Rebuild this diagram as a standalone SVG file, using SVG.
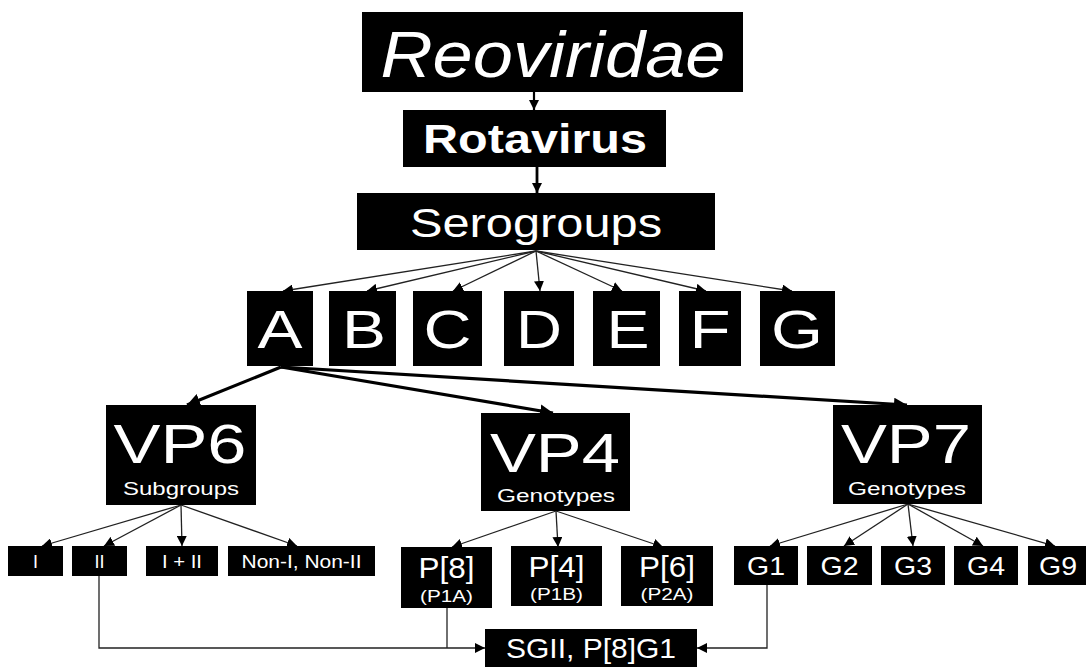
<svg xmlns="http://www.w3.org/2000/svg" width="1086" height="667" viewBox="0 0 1086 667">
<style>
  .box { fill: #000; }
  .t { fill: #fff; font-family: "Liberation Sans", Arial, sans-serif; text-anchor: middle; }
  .thin { stroke: #222; stroke-width: 1.3; fill: none; marker-end: url(#ah); }
  .thick { stroke: #000; stroke-width: 3.2; fill: none; marker-end: url(#ahb); }
  .plain { stroke: #222; stroke-width: 1.3; fill: none; }
</style>
<defs>
  <marker id="ah" markerUnits="userSpaceOnUse" markerWidth="10" markerHeight="10" refX="10" refY="5" orient="auto">
    <path d="M0,0 L10,5 L0,10 z" fill="#000"/>
  </marker>
  <marker id="ahb" markerUnits="userSpaceOnUse" markerWidth="13" markerHeight="13" refX="13" refY="6.5" orient="auto">
    <path d="M0,0 L13,6.5 L0,13 z" fill="#000"/>
  </marker>
</defs>
<rect width="1086" height="667" fill="#fff"/>

<g id="connectors">
  <line x1="534" y1="92" x2="534" y2="110" stroke="#000" stroke-width="2.2" marker-end="url(#ah)"/>
  <line x1="537" y1="167" x2="537" y2="193" stroke="#000" stroke-width="2.8" marker-end="url(#ah)"/>
  <line class="thin" x1="536" y1="251" x2="283" y2="291"/>
  <line class="thin" x1="536" y1="251" x2="367" y2="291"/>
  <line class="thin" x1="536" y1="251" x2="453" y2="291"/>
  <line class="thin" x1="536" y1="251" x2="540" y2="291"/>
  <line class="thin" x1="536" y1="251" x2="622" y2="291"/>
  <line class="thin" x1="536" y1="251" x2="706" y2="291"/>
  <line class="thin" x1="536" y1="251" x2="792" y2="291"/>
  <line class="thick" x1="281" y1="367" x2="187" y2="405"/>
  <line class="thick" x1="281" y1="367" x2="553" y2="413"/>
  <line class="thick" x1="281" y1="367" x2="907" y2="405"/>
  <line class="thin" x1="181" y1="505" x2="42" y2="546"/>
  <line class="thin" x1="181" y1="505" x2="104" y2="546"/>
  <line class="thin" x1="181" y1="505" x2="182" y2="546"/>
  <line class="thin" x1="181" y1="505" x2="297" y2="546"/>
  <line class="thin" x1="556" y1="511" x2="452" y2="547"/>
  <line class="thin" x1="556" y1="511" x2="558" y2="547"/>
  <line class="thin" x1="556" y1="511" x2="663" y2="547"/>
  <line class="thin" x1="908" y1="504" x2="770" y2="546"/>
  <line class="thin" x1="908" y1="504" x2="844" y2="546"/>
  <line class="thin" x1="908" y1="504" x2="913" y2="546"/>
  <line class="thin" x1="908" y1="504" x2="983" y2="546"/>
  <line class="thin" x1="908" y1="504" x2="1055" y2="546"/>
  <polyline class="thin" points="99,576 99,648 485,648"/>
  <line class="plain" x1="447" y1="607" x2="447" y2="648"/>
  <polyline class="thin" points="767,585 767,648 697,648"/>
</g>

<g id="reoviridae"><rect class="box" x="362" y="12" width="381" height="80"/><text class="t" x="553" y="77" font-size="64" font-style="italic" textLength="345" lengthAdjust="spacingAndGlyphs">Reoviridae</text></g>
<g id="rotavirus"><rect class="box" x="403" y="110" width="263" height="57"/><text class="t" x="535" y="153" font-size="41" font-weight="bold" textLength="224" lengthAdjust="spacingAndGlyphs">Rotavirus</text></g>
<g id="serogroups"><rect class="box" x="357" y="193" width="358" height="57"/><text class="t" x="536" y="237" font-size="40" textLength="252" lengthAdjust="spacingAndGlyphs">Serogroups</text></g>

<g id="A"><rect class="box" x="247" y="291" width="66" height="75"/><text class="t" x="280" y="348" font-size="53" textLength="45" lengthAdjust="spacingAndGlyphs">A</text></g>
<g id="B"><rect class="box" x="329" y="291" width="67" height="75"/><text class="t" x="364" y="348" font-size="53" textLength="44" lengthAdjust="spacingAndGlyphs">B</text></g>
<g id="C"><rect class="box" x="413" y="291" width="69" height="75"/><text class="t" x="447.5" y="348" font-size="53" textLength="48" lengthAdjust="spacingAndGlyphs">C</text></g>
<g id="D"><rect class="box" x="504" y="291" width="70" height="75"/><text class="t" x="539" y="348" font-size="53" textLength="46" lengthAdjust="spacingAndGlyphs">D</text></g>
<g id="E"><rect class="box" x="593" y="291" width="67" height="75"/><text class="t" x="628" y="348" font-size="53" textLength="43" lengthAdjust="spacingAndGlyphs">E</text></g>
<g id="F"><rect class="box" x="679" y="291" width="62" height="75"/><text class="t" x="710" y="348" font-size="53" textLength="41" lengthAdjust="spacingAndGlyphs">F</text></g>
<g id="G"><rect class="box" x="760" y="291" width="75" height="75"/><text class="t" x="797" y="348" font-size="53" textLength="52" lengthAdjust="spacingAndGlyphs">G</text></g>

<g id="VP6"><rect class="box" x="106" y="405" width="150" height="100"/><text class="t" x="180" y="463" font-size="56" textLength="133" lengthAdjust="spacingAndGlyphs">VP6</text><text class="t" x="181" y="495" font-size="18" textLength="116" lengthAdjust="spacingAndGlyphs">Subgroups</text></g>
<g id="VP4"><rect class="box" x="481" y="413" width="149" height="98"/><text class="t" x="555" y="472" font-size="56" textLength="130" lengthAdjust="spacingAndGlyphs">VP4</text><text class="t" x="556" y="502" font-size="18" textLength="118" lengthAdjust="spacingAndGlyphs">Genotypes</text></g>
<g id="VP7"><rect class="box" x="833" y="405" width="149" height="99"/><text class="t" x="906" y="463" font-size="56" textLength="130" lengthAdjust="spacingAndGlyphs">VP7</text><text class="t" x="907" y="495" font-size="18" textLength="118" lengthAdjust="spacingAndGlyphs">Genotypes</text></g>

<g id="sgI"><rect class="box" x="8" y="546" width="55" height="30"/><text class="t" x="35.5" y="568" font-size="18">I</text></g>
<g id="sgII"><rect class="box" x="72" y="546" width="55" height="30"/><text class="t" x="99.5" y="568" font-size="18">II</text></g>
<g id="sgI_II"><rect class="box" x="146" y="546" width="72" height="30"/><text class="t" x="182" y="568" font-size="18" textLength="40" lengthAdjust="spacingAndGlyphs">I + II</text></g>
<g id="sgNon"><rect class="box" x="228" y="546" width="147" height="30"/><text class="t" x="301.5" y="568" font-size="18" textLength="120" lengthAdjust="spacingAndGlyphs">Non-I, Non-II</text></g>

<g id="P8"><rect class="box" x="401" y="547" width="91" height="61"/><text class="t" x="446.5" y="578" font-size="29" textLength="56" lengthAdjust="spacingAndGlyphs">P[8]</text><text class="t" x="446.5" y="602" font-size="17" textLength="53" lengthAdjust="spacingAndGlyphs">(P1A)</text></g>
<g id="P4"><rect class="box" x="511" y="546" width="91" height="60"/><text class="t" x="556.5" y="577" font-size="29" textLength="56" lengthAdjust="spacingAndGlyphs">P[4]</text><text class="t" x="556.5" y="600" font-size="17" textLength="53" lengthAdjust="spacingAndGlyphs">(P1B)</text></g>
<g id="P6"><rect class="box" x="621" y="546" width="92" height="60"/><text class="t" x="667" y="577" font-size="29" textLength="56" lengthAdjust="spacingAndGlyphs">P[6]</text><text class="t" x="667" y="600" font-size="17" textLength="53" lengthAdjust="spacingAndGlyphs">(P2A)</text></g>

<g id="G1"><rect class="box" x="734" y="546" width="64" height="39"/><text class="t" x="766" y="575" font-size="26" textLength="38" lengthAdjust="spacingAndGlyphs">G1</text></g>
<g id="G2"><rect class="box" x="807" y="546" width="65" height="39"/><text class="t" x="839.5" y="575" font-size="26" textLength="38" lengthAdjust="spacingAndGlyphs">G2</text></g>
<g id="G3"><rect class="box" x="881" y="546" width="64" height="39"/><text class="t" x="913" y="575" font-size="26" textLength="38" lengthAdjust="spacingAndGlyphs">G3</text></g>
<g id="G4"><rect class="box" x="954" y="546" width="64" height="39"/><text class="t" x="986" y="575" font-size="26" textLength="38" lengthAdjust="spacingAndGlyphs">G4</text></g>
<g id="G9"><rect class="box" x="1028" y="546" width="64" height="39"/><text class="t" x="1058" y="575" font-size="26" textLength="38" lengthAdjust="spacingAndGlyphs">G9</text></g>

<g id="result"><rect class="box" x="485" y="629" width="212" height="38"/><text class="t" x="591" y="658" font-size="28" textLength="170" lengthAdjust="spacingAndGlyphs">SGII, P[8]G1</text></g>
</svg>
